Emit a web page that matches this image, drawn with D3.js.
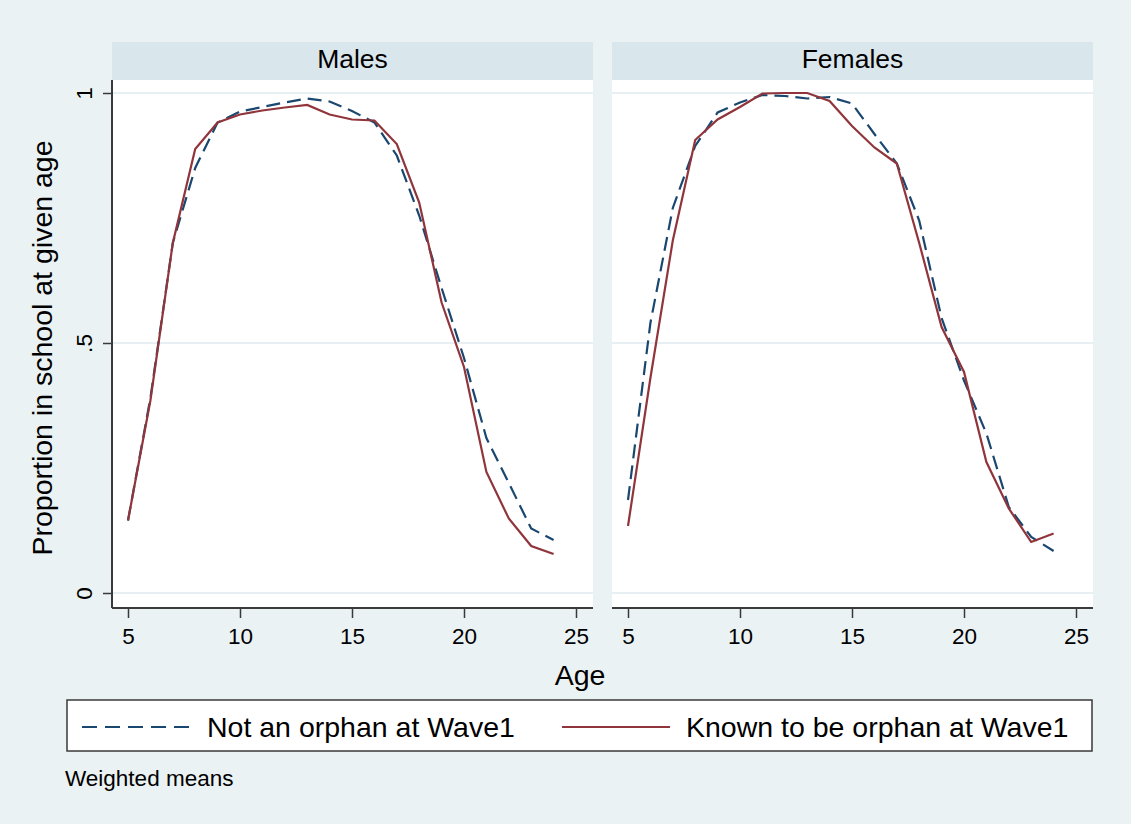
<!DOCTYPE html>
<html>
<head>
<meta charset="utf-8">
<script src="https://cdn.jsdelivr.net/npm/d3@7"></script>
<style>
  html, body { margin: 0; padding: 0; background: #eaf2f3; }
  svg { display: block; font-family: "Liberation Sans", Arial, sans-serif; }
</style>
</head>
<body>
<script>
// Proportion of children in school at each age, by orphan status at Wave 1
const ages = [5, 6, 7, 8, 9, 10, 11, 12, 13, 14, 15, 16, 17, 18, 19, 20, 21, 22, 23, 24];

const malesNotOrphan = [0.145, 0.39, 0.70, 0.85, 0.941, 0.963, 0.972, 0.981, 0.989, 0.983,
                        0.964, 0.941, 0.875, 0.755, 0.61, 0.47, 0.31, 0.22, 0.129, 0.106];
const malesOrphan    = [0.145, 0.385, 0.70, 0.888, 0.941, 0.957, 0.965, 0.971, 0.976, 0.957,
                        0.947, 0.945, 0.898, 0.781, 0.581, 0.452, 0.242, 0.149, 0.094, 0.078];
const femalesNotOrphan = [0.186, 0.54, 0.77, 0.894, 0.961, 0.981, 0.996, 0.994, 0.989, 0.992,
                          0.979, 0.918, 0.859, 0.745, 0.55, 0.425, 0.319, 0.172, 0.112, 0.084];
const femalesOrphan    = [0.134, 0.43, 0.705, 0.906, 0.947, 0.972, 0.999, 1.0, 1.0, 0.984,
                          0.934, 0.891, 0.859, 0.70, 0.532, 0.442, 0.262, 0.169, 0.102, 0.119];

const panelNames = ["Males", "Females"];
const seriesNames = ["Not an orphan at Wave1", "Known to be orphan at Wave1"];
const xTicks = [5, 10, 15, 20, 25];
const yTicks = [0, 0.5, 1];
const yTickLabels = ["0", ".5", "1"];
const xTitle = "Age";
const yTitle = "Proportion in school at given age";
const note = "Weighted means";

const W = 1131, H = 824;
const colors = { bg: "#eaf2f3", strip: "#d9e6eb", grid: "#e7eff2", axis: "#3a3a3a",
                 navy: "#1a476f", maroon: "#90353b" };

const svg = d3.select("body").append("svg").attr("width", W).attr("height", H);
svg.append("rect").attr("width", W).attr("height", H).attr("fill", colors.bg);

const plotTop = 80, plotBottom = 608, stripTop = 42;
const panels = [
  { name: panelNames[0], left: 112, right: 593, data: [malesNotOrphan, malesOrphan], yAxis: true },
  { name: panelNames[1], left: 612, right: 1093, data: [femalesNotOrphan, femalesOrphan], yAxis: false }
];

const y = d3.scaleLinear().domain([0, 1]).range([593, 93]);

panels.forEach(p => {
  const x = d3.scaleLinear().domain([5, 25]).range([p.left + 16, p.left + 464]);
  const g = svg.append("g");

  // strip with panel title
  g.append("rect").attr("x", p.left).attr("y", stripTop)
    .attr("width", p.right - p.left).attr("height", plotTop - stripTop).attr("fill", colors.strip);
  g.append("text").attr("x", (p.left + p.right) / 2).attr("y", 68)
    .attr("text-anchor", "middle").attr("font-size", 26.5).attr("fill", "#000").text(p.name);

  // plot region
  g.append("rect").attr("x", p.left).attr("y", plotTop)
    .attr("width", p.right - p.left).attr("height", plotBottom - plotTop).attr("fill", "#fff");

  // horizontal grid lines
  g.selectAll("line.grid").data(yTicks).join("line").attr("class", "grid")
    .attr("x1", p.left).attr("x2", p.right)
    .attr("y1", d => y(d)).attr("y2", d => y(d))
    .attr("stroke", colors.grid).attr("stroke-width", 2);

  // x axis
  const xAxis = d3.axisBottom(x).tickValues(xTicks).tickSize(10).tickPadding(10).tickFormat(d3.format("d"));
  const xa = g.append("g").attr("transform", `translate(0,${plotBottom})`).call(xAxis);
  xa.select(".domain").remove();
  xa.selectAll(".tick line").attr("stroke", colors.axis).attr("stroke-width", 1.5);
  xa.selectAll(".tick text").attr("font-size", 22.5).attr("fill", "#000")
    .attr("font-family", "Liberation Sans, Arial, sans-serif");
  g.append("line").attr("x1", p.left).attr("x2", p.right)
    .attr("y1", plotBottom).attr("y2", plotBottom)
    .attr("stroke", colors.axis).attr("stroke-width", 2);

  if (p.yAxis) {
    const yAxis = d3.axisLeft(y).tickValues(yTicks).tickSize(9).tickFormat((d, i) => yTickLabels[i]);
    const ya = g.append("g").attr("transform", `translate(${p.left},0)`).call(yAxis);
    ya.select(".domain").remove();
    ya.selectAll(".tick line").attr("stroke", colors.axis).attr("stroke-width", 1.5);
    ya.selectAll(".tick text")
      .attr("font-size", 22.5).attr("fill", "#000")
      .attr("font-family", "Liberation Sans, Arial, sans-serif")
      .attr("x", null).attr("dy", null)
      .attr("text-anchor", "middle")
      .attr("transform", "translate(-20,0) rotate(-90)");
    g.append("line").attr("x1", p.left).attr("x2", p.left)
      .attr("y1", plotTop).attr("y2", plotBottom)
      .attr("stroke", colors.axis).attr("stroke-width", 2);
  }

  // series lines
  const line = d3.line().x((d, i) => x(ages[i])).y(d => y(d));
  g.append("path").datum(p.data[0]).attr("d", line)
    .attr("fill", "none").attr("stroke", colors.navy).attr("stroke-width", 2.2)
    .attr("stroke-dasharray", "14,7");
  g.append("path").datum(p.data[1]).attr("d", line)
    .attr("fill", "none").attr("stroke", colors.maroon).attr("stroke-width", 2.2);
});

// axis titles
svg.append("text").attr("x", 580).attr("y", 685).attr("text-anchor", "middle")
  .attr("font-size", 28.5).attr("fill", "#000").text(xTitle);
svg.append("text").attr("transform", "translate(52,348) rotate(-90)")
  .attr("text-anchor", "middle").attr("font-size", 28.5).attr("fill", "#000").text(yTitle);

// legend
const lg = svg.append("g");
lg.append("rect").attr("x", 67).attr("y", 700).attr("width", 1025).attr("height", 51)
  .attr("fill", "#fff").attr("stroke", colors.axis).attr("stroke-width", 1.5);
const legendItems = [
  { label: seriesNames[0], x0: 82, x1: 192, tx: 207, color: colors.navy, dash: "15,8" },
  { label: seriesNames[1], x0: 562, x1: 670, tx: 686, color: colors.maroon, dash: null }
];
legendItems.forEach(it => {
  lg.append("line").attr("x1", it.x0).attr("x2", it.x1).attr("y1", 727).attr("y2", 727)
    .attr("stroke", it.color).attr("stroke-width", 2.2)
    .attr("stroke-dasharray", it.dash);
  lg.append("text").attr("x", it.tx).attr("y", 737).attr("font-size", 28.5).attr("fill", "#000")
    .text(it.label);
});

// note
svg.append("text").attr("x", 65).attr("y", 786).attr("font-size", 22.5).attr("fill", "#000").text(note);
</script>
</body>
</html>
